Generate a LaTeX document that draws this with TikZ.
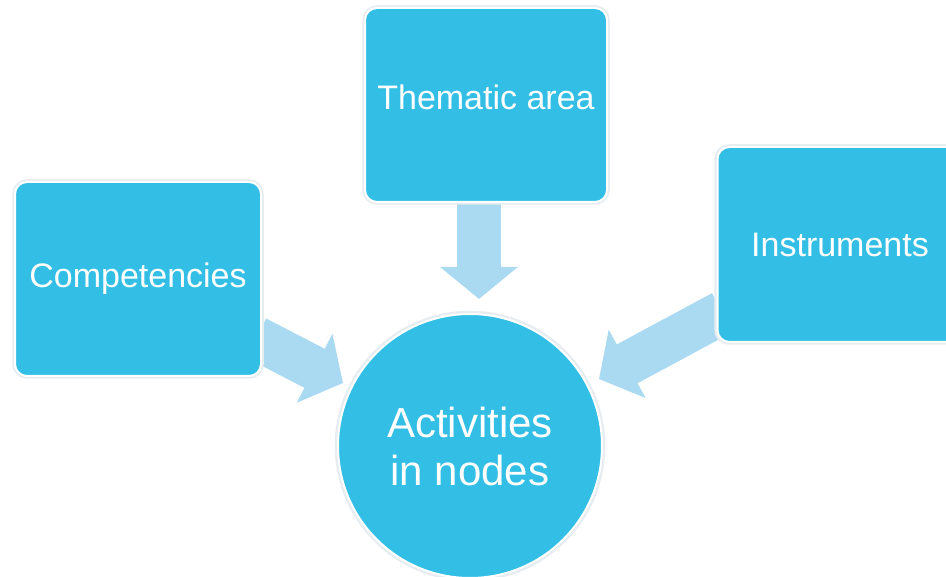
\documentclass[tikz,border=0pt]{standalone}
\usepackage{fontspec}
\setmainfont{Liberation Sans}
\usetikzlibrary{arrows.meta,calc}
\pgfdeclarelayer{bg}
\pgfsetlayers{bg,main}
\definecolor{boxblue}{RGB}{50,190,229}
\definecolor{arrowblue}{RGB}{170,218,241}
\definecolor{edgegrey}{RGB}{230,236,240}
\tikzset{
  boxnode/.style={rectangle, rounded corners=12pt, fill=boxblue, draw=white, line width=2pt,
    text=white, font=\fontsize{34}{40}\selectfont, inner sep=0pt, align=center},
  circnode/.style={circle, fill=boxblue, draw=white, line width=2pt, inner sep=0pt,
    minimum size=264pt, text=white, font=\fontsize{42}{48}\selectfont, align=center},
  fatarrow/.style={draw=arrowblue, line width=44pt,
    -{Triangle[width=76pt,length=32pt]}, arrowblue},
  shadowline/.style={draw=edgegrey, line width=3.5pt}
}
\begin{document}
\begin{tikzpicture}[x=1pt,y=-1pt]
\useasboundingbox (0,0) rectangle (946,577);
\clip (0,0) rectangle (946,577);
% faint outlines
\draw[shadowline, rounded corners=13pt] (14,181) rectangle (262,377);
\draw[shadowline, rounded corners=13pt] (364,7) rectangle (608,203);
\draw[shadowline, rounded corners=13pt] (716,146) rectangle (963,343);
\draw[shadowline] (470,446) circle (133.5);
% nodes
\node[boxnode, minimum width=246pt, minimum height=194pt] (comp) at (138,279) {Competencies};
\node[boxnode, minimum width=242pt, minimum height=194pt] (them) at (486,105) {\raisebox{15pt}{Thematic area}};
\node[boxnode, minimum width=245pt, minimum height=195pt] (inst) at (840,244.5) {Instruments};
\node[circnode] (act) at (470,446) {Activities\\in nodes};
% arrow end points
\coordinate (compS) at ($(comp.east)+(-6,59)$);
\coordinate (compT) at (343,383);
\coordinate (themS) at ($(them.south)+(-7,-4)$);
\coordinate (themT) at (479,299);
\coordinate (instS) at ($(inst.west)+(6,68)$);
\coordinate (instT) at (599,379);
\begin{pgfonlayer}{bg}
\draw[fatarrow] (compS) -- (compT);
\draw[fatarrow] (themS) -- (themT);
\draw[fatarrow] (instS) -- (instT);
\end{pgfonlayer}
\end{tikzpicture}
\end{document}
